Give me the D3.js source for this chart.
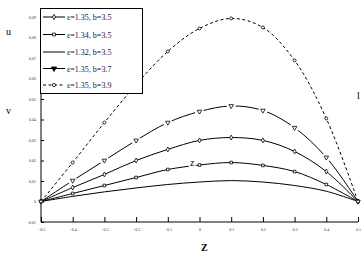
<!DOCTYPE html>
<html>
<head>
<meta charset="utf-8">
<script src="https://cdn.jsdelivr.net/npm/d3@7"></script>
<style>
  body { margin: 0; background: #fff; }
  svg { display: block; }
  text { font-family: "Liberation Serif", "DejaVu Serif", serif; }
</style>
</head>
<body>
<div id="chart"></div>
<script>
// data
var zValues = [-0.5, -0.4, -0.3, -0.2, -0.1, 0, 0.1, 0.2, 0.3, 0.4, 0.5];
var s135b35 = [0, 0.0068, 0.0132, 0.0200, 0.0254, 0.0298, 0.0312, 0.0298, 0.0244, 0.0146, 0];
var s134b35 = [0, 0.0039, 0.0078, 0.0117, 0.0156, 0.0178, 0.0190, 0.0176, 0.0146, 0.0083, 0];
var s132b35 = [0, 0.0025, 0.0047, 0.0066, 0.0083, 0.0095, 0.0102, 0.0095, 0.0078, 0.0050, 0];
var s135b37 = [0, 0.0102, 0.0200, 0.0298, 0.0385, 0.0439, 0.0466, 0.0444, 0.0360, 0.0215, 0];
var s135b39 = [0, 0.0190, 0.0385, 0.0570, 0.0732, 0.0844, 0.0893, 0.0849, 0.0688, 0.0405, 0];
var seriesNames = ["ε=1.35, b=3.5", "ε=1.34, b=3.5", "ε=1.32, b=3.5", "ε=1.35, b=3.7", "ε=1.35, b=3.9"];
var xTicks = [-0.5, -0.4, -0.3, -0.2, -0.1, 0, 0.1, 0.2, 0.3, 0.4, 0.5];
var yTicks = [-0.01, 0, 0.01, 0.02, 0.03, 0.04, 0.05, 0.06, 0.07, 0.08, 0.09];

var series = [
    { name: seriesNames[0], values: s135b35, marker: "diamond", dash: null, gap: 0 },
    { name: seriesNames[1], values: s134b35, marker: "square", dash: null, gap: 0 },
    { name: seriesNames[2], values: s132b35, marker: null, dash: null, gap: 0 },
    { name: seriesNames[3], values: s135b37, marker: "triangle", dash: null, gap: 4.5 },
    { name: seriesNames[4], values: s135b39, marker: "circle", dash: "3,2.5", gap: 0 }
];

var width = 364, height = 260;

var svg = d3.select("#chart").append("svg")
    .attr("width", width)
    .attr("height", height);

var x = d3.scaleLinear().domain([-0.5, 0.5]).range([41, 358]);
var y = d3.scaleLinear().domain([-0.01, 0.09]).range([222, 17]);

// axes
var xAxisCall = d3.axisBottom(x).tickValues(xTicks).tickSize(-5).tickPadding(6)
    .tickFormat(function (d) { return d3.format("")(+d.toFixed(1)); });
var xAxis = svg.append("g")
    .attr("transform", "translate(0," + y(-0.01) + ")")
    .call(xAxisCall);
xAxis.select(".domain").attr("d", "M" + x(-0.5) + ",0H" + x(0.5));

var yAxisCall = d3.axisLeft(y).tickValues(yTicks).tickSize(-3).tickPadding(5)
    .tickFormat(function (d) { return d3.format("")(+d.toFixed(2)); });
var yAxis = svg.append("g")
    .attr("transform", "translate(" + x(-0.5) + ",0)")
    .call(yAxisCall);
yAxis.select(".domain").attr("d", "M0," + y(-0.01) + "V" + y(0.09));

svg.selectAll(".tick text").attr("font-size", 4).attr("fill", "#333");
svg.selectAll(".domain, .tick line").attr("stroke", "#000").attr("stroke-width", 1);

// lines
var line = d3.line()
    .x(function (d, i) { return x(zValues[i]); })
    .y(function (d) { return y(d); })
    .curve(d3.curveCatmullRom.alpha(0.5));

var symbolType = {
    diamond: d3.symbolDiamond,
    square: d3.symbolSquare,
    triangle: d3.symbolTriangle,
    circle: d3.symbolCircle
};

series.forEach(function (s) {
    svg.append("path")
        .datum(s.values)
        .attr("d", line)
        .attr("fill", "none")
        .attr("stroke", "#000")
        .attr("stroke-width", 1)
        .attr("stroke-dasharray", s.dash);
});

series.forEach(function (s) {
    if (!s.marker) return;
    var g = svg.append("g");
    // white gap round the symbol, like the original plot
    if (s.gap) {
        g.selectAll("circle")
            .data(s.values.slice(1, -1))
            .enter().append("circle")
            .attr("cx", function (d, i) { return x(zValues[i + 1]); })
            .attr("cy", function (d) { return y(d); })
            .attr("r", s.gap)
            .attr("fill", "#fff");
    }
    var sym = d3.symbol().type(symbolType[s.marker]).size(s.marker === "triangle" ? 9 : 7);
    g.selectAll("path")
        .data(s.values)
        .enter().append("path")
        .attr("transform", function (d, i) {
            var rot = s.marker === "triangle" ? " rotate(180)" : "";
            return "translate(" + x(zValues[i]) + "," + y(d) + ")" + rot;
        })
        .attr("d", sym)
        .attr("fill", "#fff")
        .attr("stroke", "#000")
        .attr("stroke-width", 0.8);
});

// labels
svg.append("text").attr("x", 190).attr("y", 166).attr("font-size", 10)
    .attr("stroke", "#fff").attr("stroke-width", 3).attr("paint-order", "stroke")
    .text("z");
svg.append("text").attr("x", 201).attr("y", 251).attr("font-size", 10).attr("font-weight", "bold").text("Z");
svg.append("text").attr("x", 6).attr("y", 35).attr("font-size", 10).text("u");
svg.append("text").attr("x", 6).attr("y", 114).attr("font-size", 10).text("v");
svg.append("text").attr("x", 357).attr("y", 99).attr("font-size", 10).text("l");

// legend
var legend = svg.append("g");
legend.append("rect")
    .attr("x", 40.5).attr("y", 8.5)
    .attr("width", 102).attr("height", 85)
    .attr("fill", "#fff")
    .attr("stroke", "#000")
    .attr("stroke-width", 1);

var legendY = [17, 34.5, 52, 68.5, 85];
series.forEach(function (s, i) {
    var g = legend.append("g").attr("transform", "translate(0," + legendY[i] + ")");
    g.append("line")
        .attr("x1", 43).attr("x2", 65).attr("y1", 0).attr("y2", 0)
        .attr("stroke", "#000").attr("stroke-width", 1)
        .attr("stroke-dasharray", s.dash);
    if (s.marker) {
        var sym = d3.symbol().type(symbolType[s.marker]).size(s.marker === "triangle" ? 12 : 8);
        g.append("path")
            .attr("transform", "translate(54,0)" + (s.marker === "triangle" ? " rotate(180)" : ""))
            .attr("d", sym)
            .attr("fill", s.marker === "triangle" ? "#000" : "#fff")
            .attr("stroke", "#000")
            .attr("stroke-width", 0.8);
    }
    g.append("text")
        .attr("x", 67).attr("y", 3)
        .attr("font-size", 8)
        .attr("fill", "#161640")
        .text(s.name);
});
</script>
</body>
</html>
